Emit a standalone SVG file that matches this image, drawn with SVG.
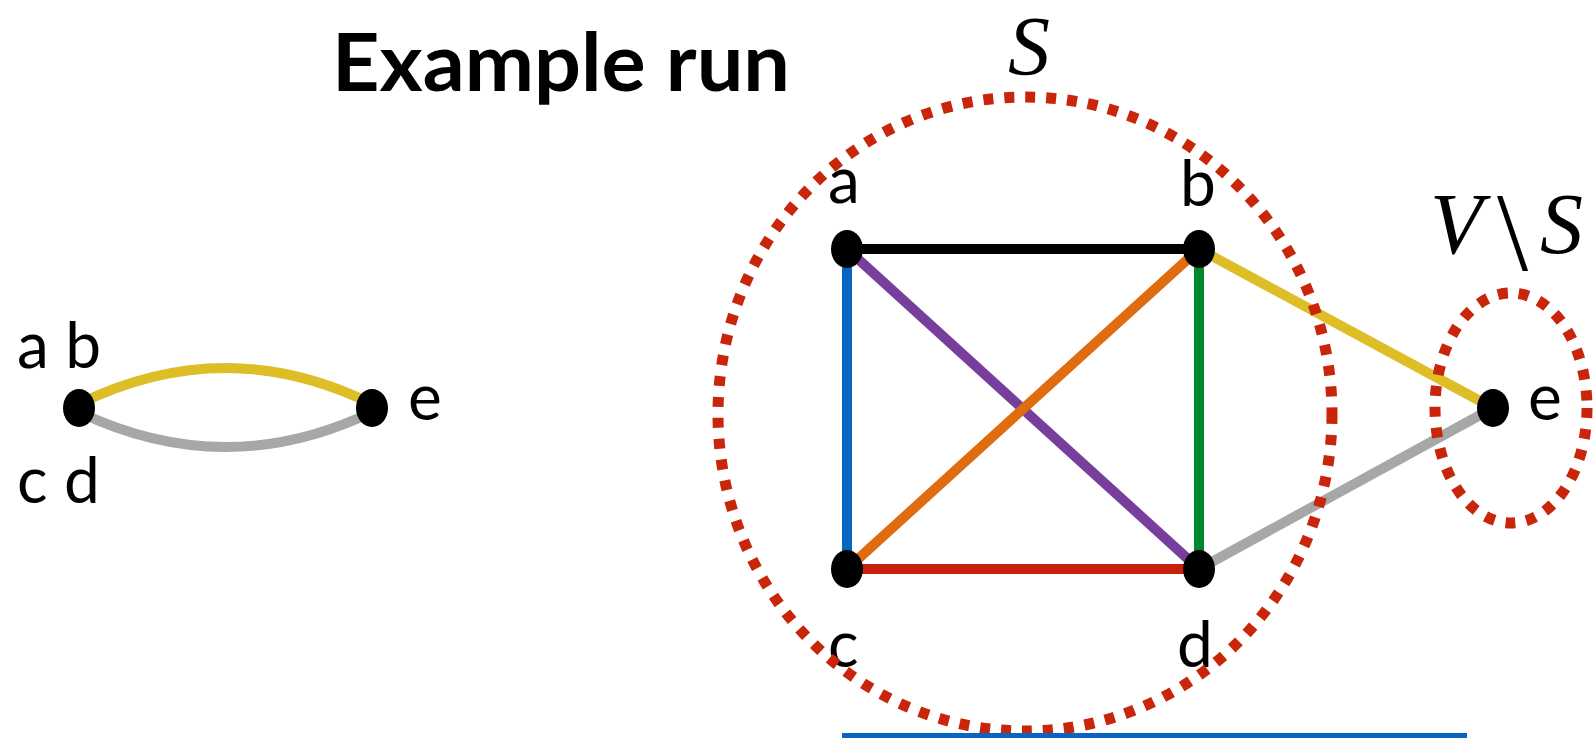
<svg xmlns="http://www.w3.org/2000/svg" width="1594" height="738" viewBox="0 0 1594 738">
<style>
.lbl{font-family:Lato,"Open Sans","Liberation Sans",sans-serif;font-size:64px;fill:#000}
.ttl{font-family:Lato,"Liberation Sans",sans-serif;font-size:80px;font-weight:700;fill:#000}
.math{font-family:"Liberation Serif","DejaVu Serif",serif;font-size:86px;font-style:italic;fill:#000}
.e{fill:none;stroke-width:10}
.node{fill:#000}
.dot{fill:none;stroke:#C9250B;stroke-width:11;stroke-dasharray:10 11}
</style>
<rect width="1594" height="738" fill="#fff"/>
<text id="title" class="ttl" x="332" y="91" textLength="458" lengthAdjust="spacingAndGlyphs">Example run</text>

<g id="connectors">
  <path class="e" stroke="#DDBE26" d="M79 404 Q226 332 372 404"/>
  <path class="e" stroke="#A5A8A6" d="M79 412 Q226 482 372 412"/>
  <line class="e" stroke="#000" x1="847" y1="249" x2="1199" y2="249"/>
  <line class="e" stroke="#0866C2" x1="847" y1="249" x2="847" y2="569"/>
  <line class="e" stroke="#00882B" x1="1199" y1="249" x2="1199" y2="569"/>
  <line class="e" stroke="#C8200A" x1="847" y1="569" x2="1199" y2="569"/>
  <line class="e" stroke="#773F9B" x1="847" y1="249" x2="1199" y2="569"/>
  <line class="e" stroke="#E06C10" x1="847" y1="569" x2="1199" y2="249"/>
  <line class="e" stroke="#DDBE26" x1="1199" y1="249" x2="1493" y2="408"/>
  <line class="e" stroke="#A5A8A6" x1="1199" y1="569" x2="1493" y2="408"/>
</g>

<g id="node-abcd"><ellipse class="node" cx="79" cy="408" rx="16" ry="19"/><text class="lbl" x="17" y="368">a b</text><text class="lbl" x="17" y="503">c d</text></g>
<g id="node-e-left"><ellipse class="node" cx="372" cy="408" rx="16" ry="19"/><text class="lbl" x="408" y="420">e</text></g>
<g id="node-a"><ellipse class="node" cx="847" cy="249" rx="16" ry="19"/><text class="lbl" x="828" y="203">a</text></g>
<g id="node-b"><ellipse class="node" cx="1199" cy="249" rx="16" ry="19"/><text class="lbl" x="1180" y="206">b</text></g>
<g id="node-c"><ellipse class="node" cx="847" cy="569" rx="16" ry="19"/><text class="lbl" x="828" y="667">c</text></g>
<g id="node-d"><ellipse class="node" cx="1199" cy="569" rx="16" ry="19"/><text class="lbl" x="1177" y="667">d</text></g>
<g id="node-e"><ellipse class="node" cx="1493" cy="408" rx="16" ry="19"/><text class="lbl" x="1528" y="420">e</text></g>

<g id="set-S">
  <ellipse class="dot" cx="1025" cy="414" rx="307" ry="317"/>
  <text class="math" style="font-size:84px" x="1008" y="75">S</text>
</g>
<g id="set-VS">
  <ellipse class="dot" cx="1511" cy="408" rx="76" ry="115"/>
  <text class="math" x="1430" y="253">V<tspan style="font-style:normal" font-size="112" x="1497" y="270">\</tspan><tspan x="1540" y="253">S</tspan></text>
</g>
<rect x="842" y="733" width="625" height="8" fill="#0866C2"/>
</svg>
